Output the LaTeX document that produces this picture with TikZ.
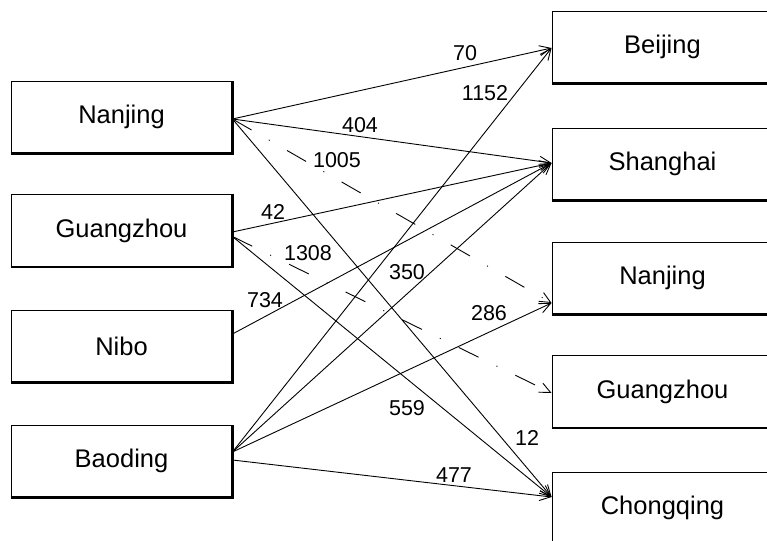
\documentclass[tikz,border=0pt]{standalone}
\usepackage{fontspec}
\setmainfont{Liberation Sans}
\usetikzlibrary{arrows.meta,calc}
\begin{document}
\begin{tikzpicture}[x=1pt,y=-1pt,
  citybox/.style={draw, line width=0.9pt, minimum width=221pt, minimum height=72pt,
    inner sep=0pt, font=\fontsize{25.5}{29}\selectfont},
  lab/.style={font=\fontsize{21.5}{24}\selectfont, inner sep=0pt},
  flow/.style={line width=0.9pt, -{Straight Barb[length=11pt,width=10pt,line width=0.9pt]}},
  dflow/.style={flow, dash pattern=on 22pt off 20pt on 1pt off 20pt}]
\useasboundingbox (0,0) rectangle (767,540);
\begin{scope}
\clip (0,0) rectangle (767,540);
% left boxes
\node[citybox] (LN) at (121.5,117) {Nanjing};
\node[citybox] (LG) at (121.5,230.5) {Guangzhou};
\node[citybox] (LB) at (121.5,346) {Nibo};
\node[citybox] (LD) at (121.5,461) {Baoding};
% right boxes
\node[citybox] (RB) at (662.5,47) {Beijing};
\node[citybox] (RS) at (662.5,164) {Shanghai};
\node[citybox] (RN) at (662.5,278) {Nanjing};
\node[citybox] (RG) at (662.5,391.5) {Guangzhou};
\node[citybox] (RC) at (662.5,508) {Chongqing};
% shadow edges
\foreach \b in {LN,LG,LB,LD,RB,RS,RN,RG,RC}{
  \draw[line width=2.2pt] (\b.south west) -- (\b.south east) -- (\b.north east);
}
% flows from Nanjing
\draw[flow] ($(LN.east)+(0,2)$) -- ($(RB.west)+(0,1)$);
\draw[flow] ($(LN.east)+(0,2)$) -- ($(RS.west)+(0,-1)$);
\draw[dflow] ($(LN.east)+(0,2)$) -- ($(RN.west)+(0,25)$);
\draw[flow] ($(LN.east)+(0,2)$) -- ($(RC.west)+(0,-11)$);
% flows from Guangzhou
\draw[flow] ($(LG.east)+(0,1.5)$) -- ($(RS.west)+(0,-1)$);
\draw[dflow] ($(LG.east)+(0,6)$) -- ($(RG.west)+(0,1.5)$);
\draw[flow] ($(LG.east)+(0,6)$) -- ($(RC.west)+(0,-11)$);
% flows from Nibo
\draw[flow] ($(LB.east)+(0,-12)$) -- ($(RS.west)+(0,-1)$);
% flows from Baoding
\draw[flow] ($(LD.east)+(0,-9)$) -- ($(RB.west)+(0,1)$);
\draw[flow] ($(LD.east)+(0,-9)$) -- ($(RS.west)+(0,-1)$);
\draw[flow] ($(LD.east)+(0,-9)$) -- ($(RN.west)+(0,25)$);
\draw[flow] ($(LD.east)+(0,-1)$) -- ($(RC.west)+(0,-11)$);
\end{scope}
% labels
\node[lab] (l70) at (465,53) {70};
\node[lab] (l1152) at (485,93) {1152};
\node[lab] (l404) at (360,125) {404};
\node[lab] (l1005) at (337,160) {1005};
\node[lab] (l42) at (273,212) {42};
\node[lab] (l1308) at (308,253) {1308};
\node[lab] (l734) at (265,300) {734};
\node[lab] (l350) at (407,272) {350};
\node[lab] (l286) at (489,313) {286};
\node[lab] (l559) at (407,408) {559};
\node[lab] (l12) at (527,438) {12};
\node[lab] (l477) at (454,475) {477};
\end{tikzpicture}
\end{document}
